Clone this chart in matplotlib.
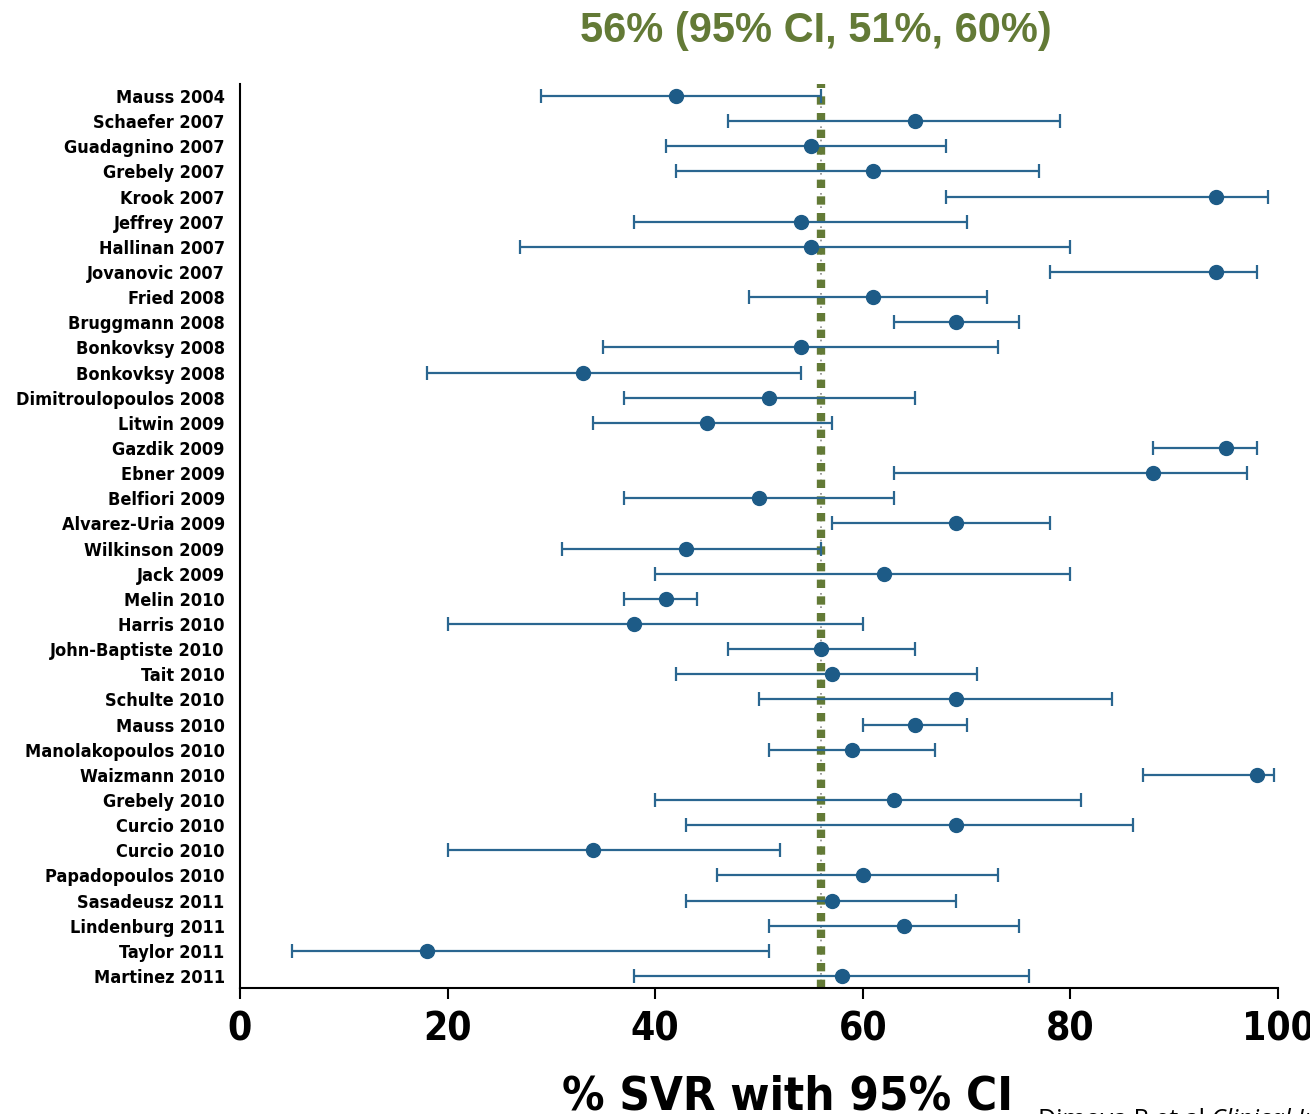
import numpy as np
import matplotlib.pyplot as plt

# studies, top to bottom
studies = ['Mauss 2004', 'Schaefer 2007', 'Guadagnino 2007', 'Grebely 2007', 'Krook 2007',
           'Jeffrey 2007', 'Hallinan 2007', 'Jovanovic 2007', 'Fried 2008', 'Bruggmann 2008',
           'Bonkovksy 2008', 'Bonkovksy 2008', 'Dimitroulopoulos 2008', 'Litwin 2009',
           'Gazdik 2009', 'Ebner 2009', 'Belfiori 2009', 'Alvarez-Uria 2009', 'Wilkinson 2009',
           'Jack 2009', 'Melin 2010', 'Harris 2010', 'John-Baptiste 2010', 'Tait 2010',
           'Schulte 2010', 'Mauss 2010', 'Manolakopoulos 2010', 'Waizmann 2010', 'Grebely 2010',
           'Curcio 2010', 'Curcio 2010', 'Papadopoulos 2010', 'Sasadeusz 2011',
           'Lindenburg 2011', 'Taylor 2011', 'Martinez 2011']
svr = [42, 65, 55, 61, 94, 54, 55, 94, 61, 69, 54, 33, 51, 45, 95, 88, 50, 69, 43, 62,
       41, 38, 56, 57, 69, 65, 59, 98, 63, 69, 34, 60, 57, 64, 18, 58]
ci_low = [29, 47, 41, 42, 68, 38, 27, 78, 49, 63, 35, 18, 37, 34, 88, 63, 37, 57, 31, 40,
          37, 20, 47, 42, 50, 60, 51, 87, 40, 43, 20, 46, 43, 51, 5, 38]
ci_high = [56, 79, 68, 77, 99, 70, 80, 98, 72, 75, 73, 54, 65, 57, 98, 97, 63, 78, 56, 80,
           44, 60, 65, 71, 84, 70, 67, 99.6, 81, 86, 52, 73, 69, 75, 51, 76]
pooled = 56
title_text = '56% (95% CI, 51%, 60%)'

narrow = ['DejaVu Sans']
blue = '#1d5b87'
green = '#637a36'

fig = plt.figure(figsize=(13.1, 11.14), dpi=100)
ax = fig.add_axes([0.1832, 0.1131, 0.7924, 0.8115])

y = np.arange(len(studies))
svr_a = np.array(svr, dtype=float)
err = [svr_a - np.array(ci_low), np.array(ci_high) - svr_a]

# pooled estimate: green squares over a faint grey dotted line
ax.axvline(pooled, color='#8a8a8a', linewidth=1.2, linestyle=(0, (1, 3)), zorder=1)
ax.axvline(pooled, color=green, linewidth=6, linestyle=(0, (1, 1)),
           dash_capstyle='butt', zorder=2)
ax.errorbar(svr_a, y, xerr=err, fmt='o', color=blue, ecolor='#2a6690',
            markersize=10, elinewidth=1.6, capsize=5, capthick=1.6, zorder=3)

ax.set_xlim(0, 100)
ax.set_ylim(35.48, -0.48)
ax.set_xticks([0, 20, 40, 60, 80, 100])
ax.set_yticks(y)
ax.set_yticklabels(studies, fontsize=13, fontweight='bold', family=narrow,
                   fontstretch='condensed')
for lab in ax.get_xticklabels():
    lab.set_fontsize(28)
    lab.set_fontweight('bold')
    lab.set_family(narrow)
    lab.set_fontstretch('condensed')
ax.tick_params(axis='y', length=0, pad=11)
ax.tick_params(axis='x', length=8, width=1.5, direction='out', pad=8)

ax.spines['top'].set_visible(False)
ax.spines['right'].set_visible(False)
ax.spines['left'].set_linewidth(1.5)
ax.spines['bottom'].set_linewidth(1.5)

fig.text(0.623, 0.972, title_text, ha='center', va='center', fontsize=30,
         fontweight='bold', color=green, family=['Liberation Sans', 'DejaVu Sans'])
fig.text(0.601, 0.004, '% SVR with 95% CI', ha='center', va='baseline', fontsize=34,
         fontweight='bold', family=narrow, fontstretch='condensed')
cite = fig.text(0.792, -0.012, 'Dimova R et al ', ha='left', va='baseline', fontsize=18,
                family=['Open Sans', 'DejaVu Sans'])
ax.annotate('Clinical Infectious Diseases', xy=(1, 0), xycoords=cite, ha='left',
            va='bottom', fontsize=18, style='italic', annotation_clip=False,
            family=['Open Sans', 'DejaVu Sans'])

fig.savefig('out.png', dpi=100)
